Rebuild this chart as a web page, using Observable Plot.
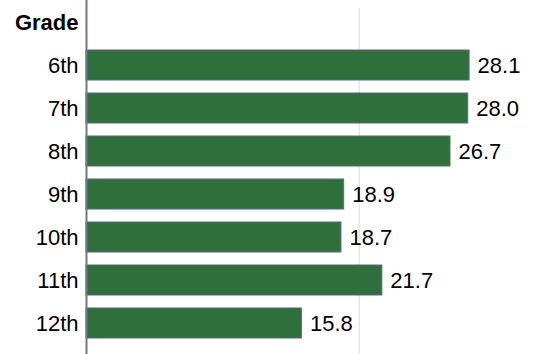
<!DOCTYPE html>
<html>
<head>
<meta charset="utf-8">
<script src="https://cdn.jsdelivr.net/npm/d3@7"></script>
<script src="https://cdn.jsdelivr.net/npm/@observablehq/plot@0.6"></script>
<style>
  html, body { margin: 0; padding: 0; background: #fff; }
  svg { display: block; }
</style>
</head>
<body>
<div id="chart"></div>
<script>
const grades = ["6th", "7th", "8th", "9th", "10th", "11th", "12th"];
const values = [28.1, 28.0, 26.7, 18.9, 18.7, 21.7, 15.8];
const gridValues = [20];
const axisTitle = "Grade";

const data = grades.map((g, i) => ({grade: g, value: values[i]}));

const chart = Plot.plot({
  width: 538,
  height: 354,
  marginLeft: 86,
  marginRight: 43,
  marginTop: 35,
  marginBottom: 0,
  style: {fontFamily: "Liberation Sans, Arial, sans-serif", fontSize: "22px", color: "#000", background: "#fff"},
  x: {domain: [0, 30], axis: null},
  y: {domain: grades, padding: 0.3, axis: null},
  marks: [
    Plot.ruleX(gridValues, {stroke: "#d9d9d9", strokeWidth: 1, insetTop: -27, strokeOpacity: 1}),
    Plot.barX(data, {x: "value", y: "grade", fill: "#2f6f3b", stroke: "#5b6b7e", strokeWidth: 1}),
    Plot.ruleX([0], {stroke: "#6b7b8c", strokeWidth: 2, insetTop: -35}),
    Plot.axisY({tickSize: 0, tickPadding: 8, fontSize: 22, fill: "#000", label: null}),
    Plot.text(data, {x: "value", y: "grade", text: d => d.value.toFixed(1), textAnchor: "start", dx: 8, fontSize: 22, fill: "#000"}),
    Plot.text([axisTitle], {frameAnchor: "top-left", textAnchor: "end", dx: -8, dy: -21, fontWeight: "bold", fontSize: 22, fill: "#000"})
  ]
});
document.getElementById("chart").appendChild(chart);
</script>
</body>
</html>
